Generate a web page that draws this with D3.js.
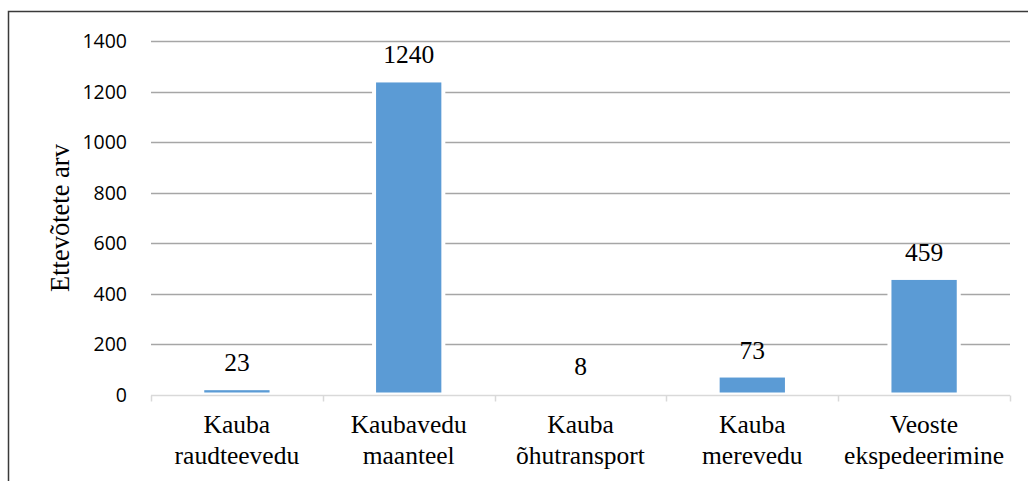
<!DOCTYPE html>
<html>
<head>
<meta charset="utf-8">
<script src="https://cdn.jsdelivr.net/npm/d3@7"></script>
<style>
  body { margin: 0; background: #fff; }
</style>
</head>
<body>
<div id="chart"></div>
<script>
var categories = [
  ["Kauba", "raudteevedu"],
  ["Kaubavedu", "maanteel"],
  ["Kauba", "õhutransport"],
  ["Kauba", "merevedu"],
  ["Veoste", "ekspedeerimine"]
];
var values = [23, 1240, 8, 73, 459];
var yTicks = [0, 200, 400, 600, 800, 1000, 1200, 1400];
var yTitle = "Ettevõtete arv";

var width = 1028, height = 481;
var margin = {top: 41, right: 18, bottom: 86, left: 151};
var serif = "Liberation Serif, Times New Roman, serif";

var svg = d3.select("#chart")
  .append("svg")
  .attr("width", width)
  .attr("height", height);

// outer frame (only left and top edges are inside the picture)
svg.append("path")
  .attr("d", "M 8.5," + height + " L 8.5,11.5 L " + width + ",11.5")
  .attr("fill", "none")
  .attr("stroke", "#3a3a3a")
  .attr("stroke-width", 1.5);

var x = d3.scaleBand()
  .domain(d3.range(categories.length))
  .range([margin.left, width - margin.right])
  .paddingInner(0.62)
  .paddingOuter(0.31);

var y = d3.scaleLinear()
  .domain([0, 1400])
  .range([height - margin.bottom, margin.top]);

var step = x.step();

// gridlines
svg.append("g")
  .selectAll("line")
  .data(yTicks.filter(d => d > 0))
  .enter()
  .append("line")
  .attr("x1", margin.left)
  .attr("x2", width - margin.right)
  .attr("y1", d => Math.round(y(d)) + 0.5)
  .attr("y2", d => Math.round(y(d)) + 0.5)
  .attr("stroke", "#a6a6a6")
  .attr("stroke-width", 1.3);

// y tick labels
svg.append("g")
  .selectAll("text")
  .data(yTicks)
  .enter()
  .append("text")
  .attr("x", 127)
  .attr("y", d => y(d))
  .attr("dy", "0.36em")
  .attr("text-anchor", "end")
  .attr("font-family", "Open Sans, sans-serif")
  .attr("font-size", 19.5)
  .attr("fill", "#000")
  .text(d => d);

// white halo behind bars (gridlines break around bars)
svg.append("g")
  .selectAll("rect")
  .data(values)
  .enter()
  .append("rect")
  .attr("x", (d, i) => x(i) - 4)
  .attr("y", d => y(d) - 1)
  .attr("width", x.bandwidth() + 8)
  .attr("height", d => y(0) - y(d) + 1)
  .attr("fill", "#fff");

// bars
svg.append("g")
  .selectAll("rect")
  .data(values)
  .enter()
  .append("rect")
  .attr("x", (d, i) => x(i))
  .attr("y", d => y(d) + 1)
  .attr("width", x.bandwidth())
  .attr("height", d => Math.max(0, y(0) - y(d) - 3.5))
  .attr("fill", "#5b9bd5");

// x axis line and ticks
var base = Math.round(y(0)) + 0.5;
var bounds = d3.range(categories.length + 1).map(i => margin.left + i * step);
svg.append("line")
  .attr("x1", margin.left)
  .attr("x2", width - margin.right)
  .attr("y1", base)
  .attr("y2", base)
  .attr("stroke", "#d9d9d9")
  .attr("stroke-width", 1.5);

svg.append("g")
  .selectAll("line")
  .data(bounds)
  .enter()
  .append("line")
  .attr("x1", d => Math.round(d) + 0.5)
  .attr("x2", d => Math.round(d) + 0.5)
  .attr("y1", base)
  .attr("y2", base + 6)
  .attr("stroke", "#d9d9d9")
  .attr("stroke-width", 1.5);

// data labels
svg.append("g")
  .selectAll("text")
  .data(values)
  .enter()
  .append("text")
  .attr("x", (d, i) => x(i) + x.bandwidth() / 2)
  .attr("y", d => y(d) - 18)
  .attr("text-anchor", "middle")
  .attr("font-family", serif)
  .attr("font-size", 25.5)
  .attr("fill", "#000")
  .text(d => d);

// category labels
var cat = svg.append("g")
  .selectAll("text")
  .data(categories)
  .enter()
  .append("text")
  .attr("text-anchor", "middle")
  .attr("font-family", serif)
  .attr("font-size", 25.5)
  .attr("fill", "#000");

cat.selectAll("tspan")
  .data((d, i) => d.map(t => ({t: t, i: i})))
  .enter()
  .append("tspan")
  .attr("x", d => x(d.i) + x.bandwidth() / 2)
  .attr("y", (d, j) => 433 + j * 31)
  .text(d => d.t);

// y axis title
svg.append("text")
  .attr("transform", "translate(69," + ((y(0) + y(1400)) / 2) + ") rotate(-90)")
  .attr("text-anchor", "middle")
  .attr("font-family", serif)
  .attr("font-size", 26.5)
  .attr("fill", "#000")
  .text(yTitle);
</script>
</body>
</html>
